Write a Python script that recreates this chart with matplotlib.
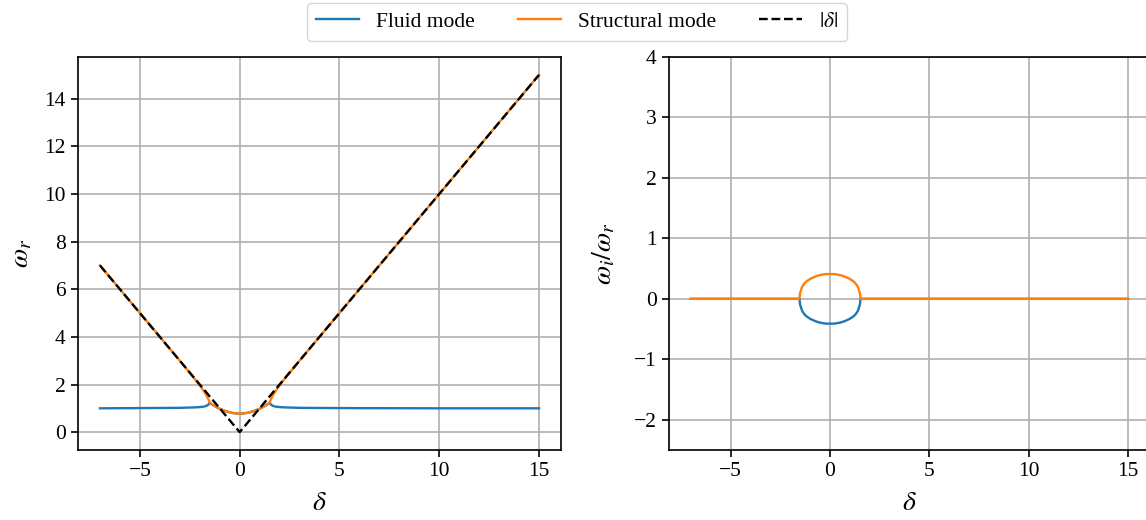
import matplotlib
matplotlib.use("Agg")
import matplotlib.pyplot as plt

plt.rcParams['font.family'] = 'serif'
plt.rcParams['font.serif'] = ['Liberation Serif', 'DejaVu Serif']
plt.rcParams['mathtext.fontset'] = 'stix'
plt.rcParams['font.size'] = 15.5
plt.rcParams['axes.linewidth'] = 1.2
plt.rcParams['xtick.major.width'] = 1.2
plt.rcParams['ytick.major.width'] = 1.2
plt.rcParams['xtick.major.size'] = 5.25
plt.rcParams['ytick.major.size'] = 5.25
plt.rcParams['grid.linewidth'] = 1.2
plt.rcParams['grid.color'] = '#b0b0b0'

# ---- data: real frequency (left panel) ----
delta_fluid = [-7, -5, -3, -2.2, -1.9, -1.75, -1.65, -1.58, -1.53, -1.5,
               -1.4, -1.2, -1.0, -0.7, -0.4, 0, 0.4, 0.7, 1.0, 1.2, 1.4,
               1.5, 1.53, 1.58, 1.65, 1.75, 1.9, 2.2, 3, 5, 10, 15]
omega_fluid = [1.0, 1.01, 1.02, 1.04, 1.06, 1.08, 1.11, 1.15, 1.2, 1.24,
               1.17, 1.07, 0.98, 0.88, 0.81, 0.77, 0.81, 0.88, 0.98, 1.07, 1.17,
               1.24, 1.2, 1.15, 1.11, 1.08, 1.06, 1.04, 1.02, 1.01, 1.0, 1.0]

delta_struct = [-7, -5, -3, -2.2, -1.9, -1.75, -1.65, -1.58, -1.53, -1.5,
                -1.4, -1.2, -1.0, -0.7, -0.4, 0, 0.4, 0.7, 1.0, 1.2, 1.4,
                1.5, 1.53, 1.58, 1.65, 1.75, 1.9, 2.2, 3, 5, 10, 15]
omega_struct = [7.0, 5.0, 3.0, 2.18, 1.85, 1.66, 1.52, 1.4, 1.3, 1.24,
                1.17, 1.07, 0.98, 0.88, 0.81, 0.77, 0.81, 0.88, 0.98, 1.07, 1.17,
                1.24, 1.3, 1.4, 1.52, 1.66, 1.85, 2.18, 3.0, 5.0, 10.0, 15.0]

delta_abs = [-7, 0, 15]
abs_delta = [7, 0, 15]

# ---- data: growth ratio (right panel) ----
delta_ratio = [-7, -1.53, -1.52, -1.5, -1.45, -1.4, -1.3, -1.2, -1.0, -0.8,
               -0.6, -0.4, -0.2, 0, 0.2, 0.4, 0.6, 0.8, 1.0, 1.2, 1.3,
               1.4, 1.45, 1.5, 1.52, 1.53, 15]
ratio_struct = [0, 0, 0.06, 0.10, 0.15, 0.20, 0.25, 0.285, 0.33, 0.36,
                0.385, 0.40, 0.41, 0.41, 0.41, 0.40, 0.385, 0.36, 0.33, 0.285, 0.25,
                0.20, 0.15, 0.10, 0.06, 0, 0]
ratio_fluid = [-v for v in ratio_struct]

xticks = [-5, 0, 5, 10, 15]
yticks_left = [0, 2, 4, 6, 8, 10, 12, 14]
yticks_right = [-2, -1, 0, 1, 2, 3, 4]

blue = '#1f77b4'
orange = '#ff7f0e'
lw = 1.7

fig = plt.figure(figsize=(11.46, 5.2), dpi=100)
ax1 = fig.add_axes([78/1146, 1-450/520, (561-78)/1146, (450-57)/520])
ax2 = fig.add_axes([669/1146, 1-450/520, (1150-669)/1146, (450-57)/520])

l1, = ax1.plot(delta_fluid, omega_fluid, color=blue, lw=lw, label='Fluid mode')
l2, = ax1.plot(delta_struct, omega_struct, color=orange, lw=lw, label='Structural mode')
l3, = ax1.plot(delta_abs, abs_delta, 'k--', lw=lw, label=r'$|\delta|$')
ax1.set_xticks(xticks)
ax1.set_yticks(yticks_left)
ax1.set_xlabel(r'$\delta$', fontsize=20, labelpad=7)
ax1.set_ylabel(r'$\omega_r$', fontsize=20, labelpad=7)
ax1.grid(True)

ax2.plot(delta_ratio, ratio_fluid, color=blue, lw=lw)
ax2.plot(delta_ratio, ratio_struct, color=orange, lw=lw)
ax2.set_xticks(xticks)
ax2.set_yticks(yticks_right)
ax2.set_ylim(-2.5, 4)
ax2.set_xlabel(r'$\delta$', fontsize=20, labelpad=7)
ax2.set_ylabel(r'$\omega_i/\omega_r$', fontsize=20, labelpad=12)
ax2.grid(True)

fig.legend(handles=[l1, l2, l3], loc='upper center', ncol=3,
           bbox_to_anchor=(577/1146, 1.0), borderaxespad=0.15)

fig.savefig('out.png', dpi=100)
